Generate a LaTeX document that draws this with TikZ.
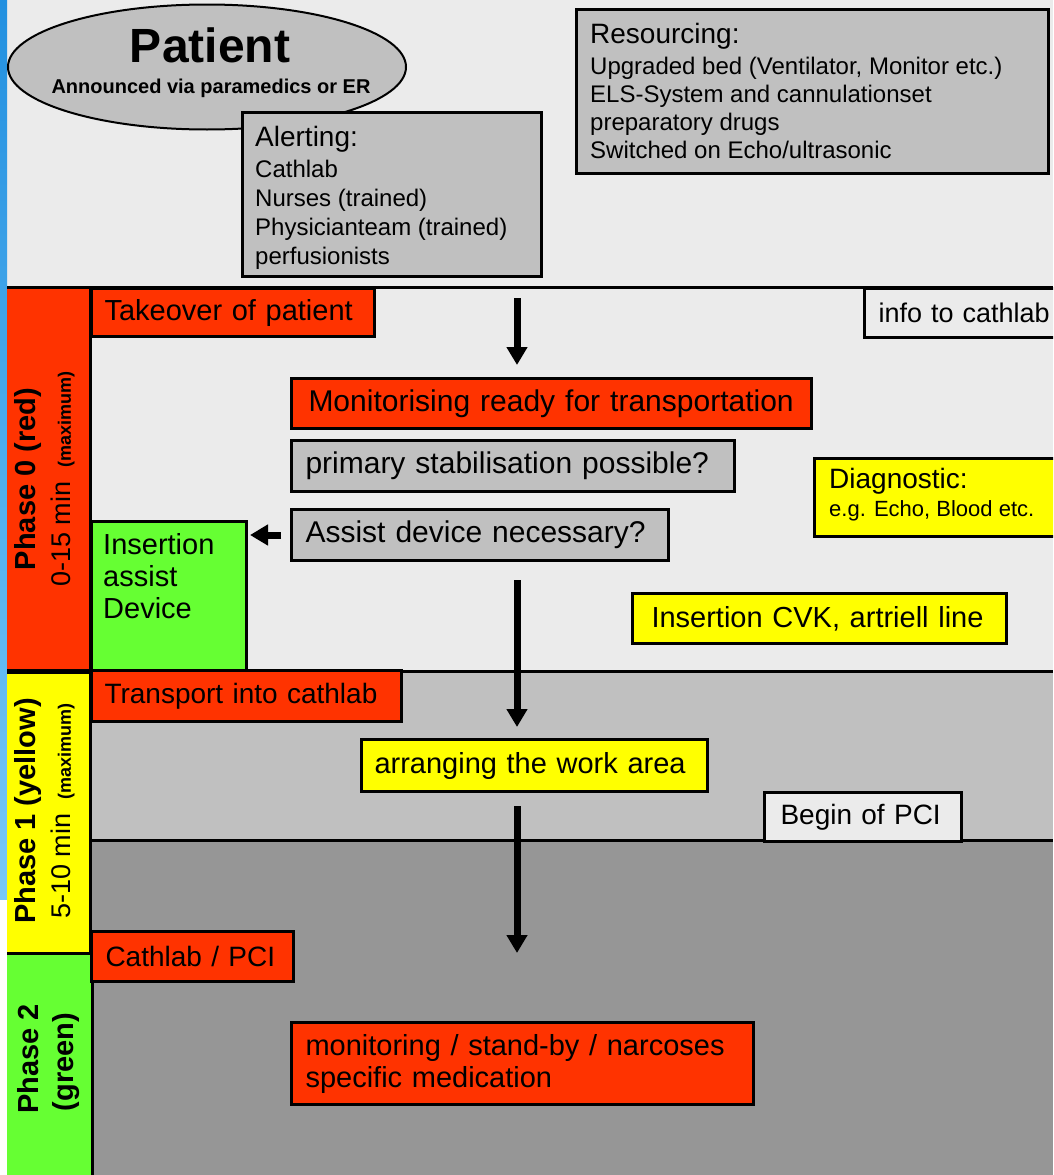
\documentclass[tikz,border=0pt]{standalone}
\usepackage{fontspec}
\setmainfont{Liberation Sans}
\usetikzlibrary{arrows.meta,shapes.geometric}
\definecolor{bglight}{HTML}{EBEBEB}
\definecolor{gmid}{HTML}{C0C0C0}
\definecolor{gdark}{HTML}{969696}
\definecolor{pred}{HTML}{FF3300}
\definecolor{pgreen}{HTML}{66FF33}
\definecolor{pyellow}{HTML}{FFFF00}
\definecolor{bluetop}{HTML}{2290E0}
\definecolor{bluebot}{HTML}{78C8F8}
\newcommand{\fsz}[2]{\fontsize{#1pt}{#2pt}\selectfont}
\begin{document}
\begin{tikzpicture}[x=1pt,y=-1pt,
  box/.style={draw=black, line width=3pt, anchor=north west, inner ysep=0pt, align=left, font=\fsz{29}{32}},
  emptybox/.style={draw=black, line width=3pt, anchor=north west, inner sep=0pt},
  txt/.style={anchor=north west, inner sep=0pt, align=left},
  flow/.style={line width=7pt, -{Triangle[width=20pt,length=18pt]}},
  plbl/.style={inner sep=0pt, rotate=90, anchor=center},
  sepline/.style={line width=3pt}]
\useasboundingbox (0,0) rectangle (1053,1175);
\clip (0,0) rectangle (1053,1175);
% backgrounds
\fill[bglight] (0,0) rectangle (1053,1175);
\shade[top color=bluetop, bottom color=bluebot] (0,0) rectangle (7,900);
\fill[white] (0,900) rectangle (7,1175);
\fill[gmid] (90,671) rectangle (1053,840);
\fill[gdark] (90,840) rectangle (1053,1175);
\fill[pred] (7,287) rectangle (90,671);
\fill[pyellow] (7,671) rectangle (90,953);
\fill[pgreen] (7,953) rectangle (92,1175);
\draw[sepline] (7,287) -- (1053,287);
\draw[sepline] (90,671) -- (1053,671);
\draw[line width=5pt] (7,671) -- (90,671);
\draw[sepline] (90,840) -- (1053,840);
\draw[sepline] (7,953) -- (92,953);
\draw[sepline] (90,287) -- (90,953);
\draw[sepline] (92,953) -- (92,1175);

% patient
\node[ellipse, draw=black, line width=2pt, fill=gmid, minimum width=398pt, minimum height=125pt, inner sep=0pt] (patient) at (207,67) {};
\node[anchor=base, inner sep=0pt, font=\bfseries\fsz{48}{50}] (ptitle) at (210,62) {Patient};
\node[anchor=base, inner sep=0pt, font=\bfseries\fsz{20}{22}] (psub) at (211,93) {Announced via paramedics or ER};

% alerting
\node[emptybox, fill=gmid, minimum width=299pt, minimum height=164pt] (alert) at (241,111) {};
\node[txt, font=\fsz{24}{29}] (alertt) at (255,126) {{\fsz{28}{29}Alerting:}\\[2pt]Cathlab\\Nurses (trained)\\Physicianteam (trained)\\perfusionists};

% resourcing
\node[emptybox, fill=gmid, minimum width=472pt, minimum height=164pt] (res) at (575,8) {};
\node[txt, font=\fsz{24}{28}] (rest) at (590,23) {{\fsz{28}{28}Resourcing:}\\[3pt]Upgraded bed (Ventilator, Monitor etc.)\\ELS-System and cannulationset\\preparatory drugs\\Switched on Echo/ultrasonic};

% phase 0
\node[box, fill=pred, text width=257pt, inner xsep=13pt, minimum height=48pt] (take) at (90,287) {Takeover of patient};
\node[box, fill=bglight, text width=222pt, inner xsep=14pt, minimum height=49pt, font=\fsz{27}{30}] (info) at (863,287) {info to cathlab};
\node[box, fill=pred, text width=486pt, inner xsep=17pt, minimum height=50pt, font=\fsz{30}{32}] (mon) at (290,377) {Monitorising ready for transportation};
\node[box, fill=gmid, text width=415pt, inner xsep=14pt, minimum height=51pt, font=\fsz{30}{32}] (prim) at (290,439) {primary stabilisation possible?};
\node[box, fill=gmid, text width=349pt, inner xsep=14pt, minimum height=51pt, font=\fsz{30}{32}] (assist) at (290,508) {Assist device necessary?};
\node[emptybox, fill=pgreen, minimum width=155pt, minimum height=151pt] (insdev) at (90,520) {};
\node[txt, font=\fsz{29}{32}] (insdevt) at (103,533) {Insertion\\assist\\Device};
\node[emptybox, fill=pyellow, minimum width=300pt, minimum height=78pt] (diag) at (813,457) {};
\node[txt, font=\fsz{22}{28}] (diagt) at (829,468) {{\fsz{28}{28}Diagnostic:}\\e.g. Echo, Blood etc.};
\node[box, fill=pyellow, text width=336pt, inner xsep=19pt, minimum height=50pt] (cvk) at (631,592) {Insertion CVK, artriell line};

% phase 1
\node[box, fill=pred, text width=284pt, inner xsep=13pt, minimum height=51pt, font=\fsz{28}{32}] (trans) at (90,669) {Transport into cathlab};
\node[box, fill=pyellow, text width=320pt, inner xsep=13pt, minimum height=52pt] (arr) at (360,738) {arranging the work area};
\node[box, fill=bglight, text width=165pt, inner xsep=16pt, minimum height=49pt, font=\fsz{28}{32}] (pci) at (763,791) {Begin of PCI};

% phase 2
\node[box, fill=pred, text width=174pt, inner xsep=14pt, minimum height=50pt, font=\fsz{28}{32}] (cath) at (90,930) {Cathlab / PCI};
\node[box, fill=pred, text width=434pt, inner xsep=14pt, minimum height=82pt] (moni) at (290,1021) {monitoring / stand-by / narcoses\\specific medication};

% phase labels
\node[plbl, font=\bfseries\fsz{29}{30}] (ph0a) at (28,479) {Phase 0 (red)};
\node[plbl, font=\fsz{27}{30}] (ph0b) at (63,479) {0-15 min\hspace{14pt}{\bfseries\fsz{18}{20}(maximum)}};
\node[plbl, font=\bfseries\fsz{29}{30}] (ph1a) at (28,811) {Phase 1 (yellow)};
\node[plbl, font=\fsz{27}{30}] (ph1b) at (63,811) {5-10 min\hspace{14pt}{\bfseries\fsz{18}{20}(maximum)}};
\node[plbl, font=\bfseries\fsz{29}{30}] (ph2a) at (28,1059) {Phase 2};
\node[plbl, font=\bfseries\fsz{29}{30}] (ph2b) at (66,1062) {(green)};

% arrows
\coordinate (a1s) at (517,298);
\draw[flow, shorten >=12pt] (a1s) -- (a1s |- mon.north);
\draw[flow, shorten <=9pt, shorten >=2pt] (assist.west) -- (insdev.east |- assist.west);
\coordinate (a3s) at (517,580);
\draw[flow, shorten >=11pt] (a3s) -- (a3s |- arr.north);
\coordinate (a4s) at (517,806);
\coordinate (a4e) at (517,953);
\draw[flow] (a4s) -- (a4e);
\end{tikzpicture}
\end{document}
